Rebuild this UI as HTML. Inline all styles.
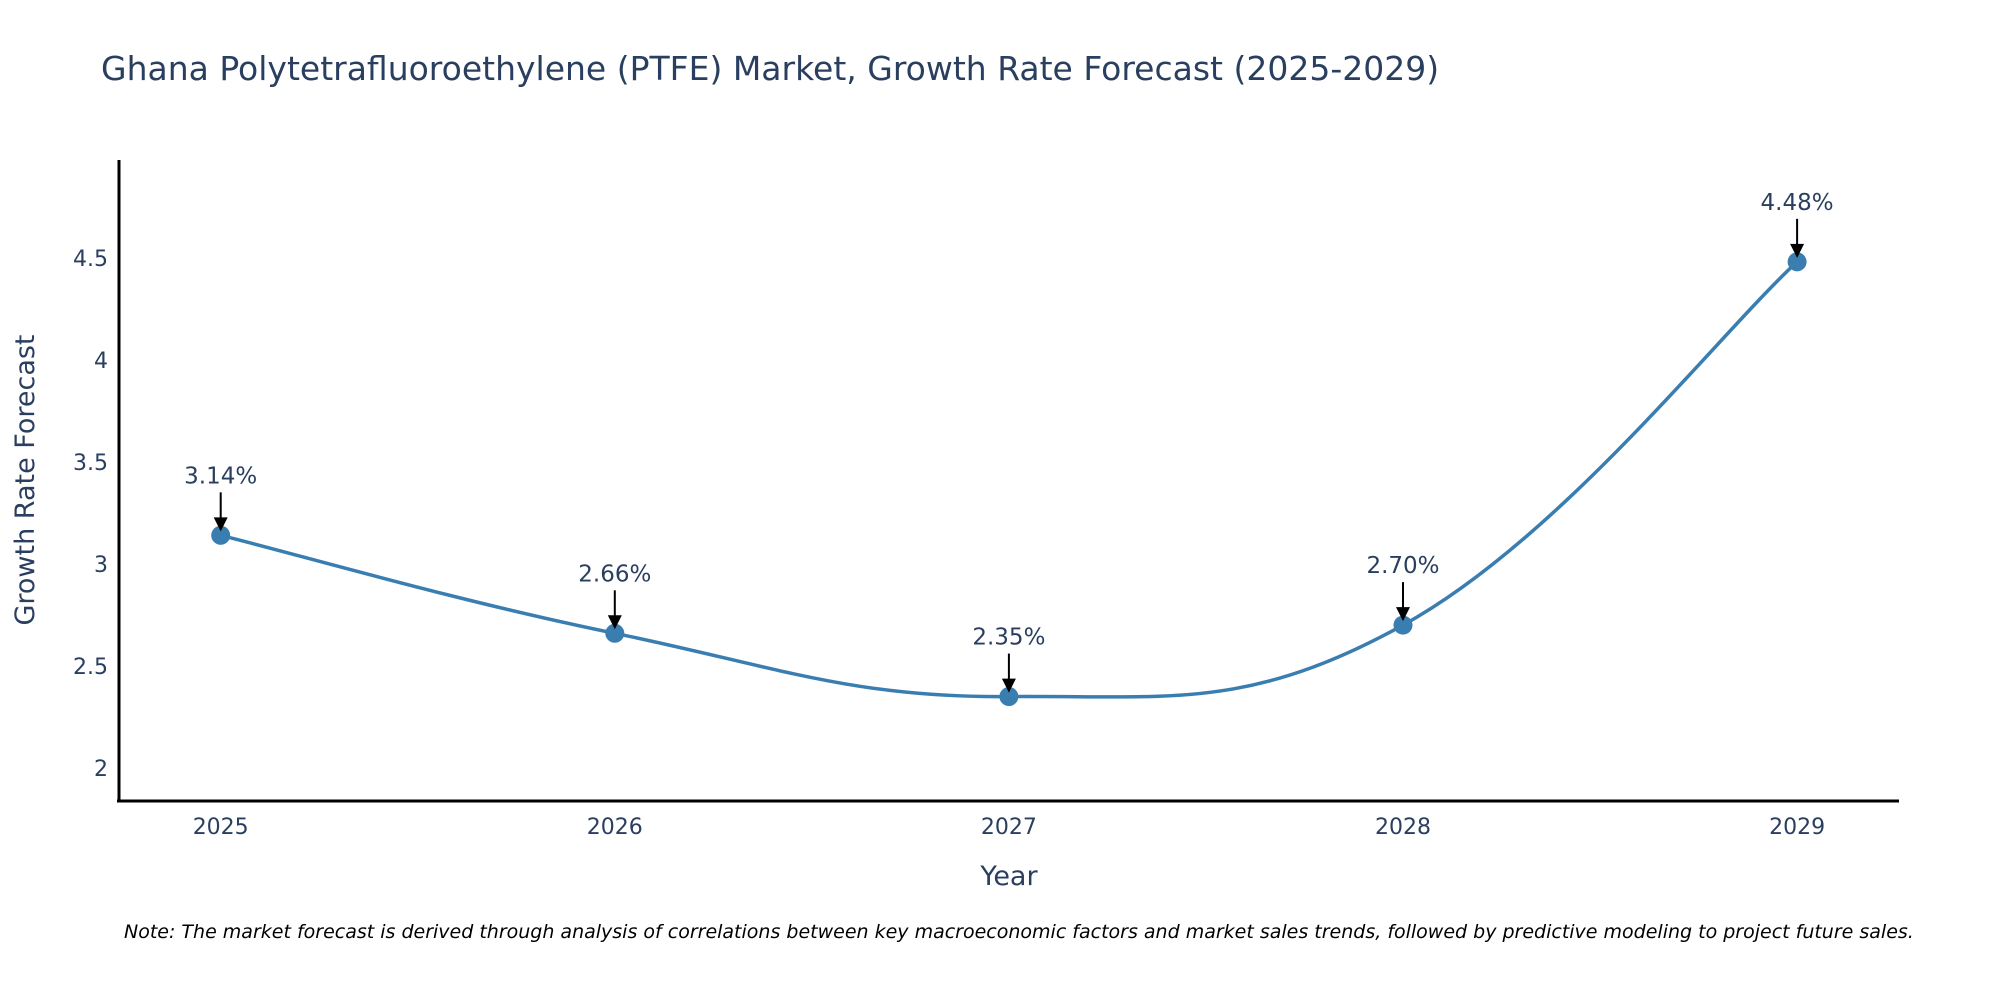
<!DOCTYPE html>
<html><head><meta charset="utf-8"><style>
body{margin:0;background:#fff;}
svg text{font-family:"DejaVu Sans","Liberation Sans",sans-serif;}
</style></head><body>
<svg width="2000" height="1000" xmlns="http://www.w3.org/2000/svg">
<text x="101" y="80" font-size="33" fill="#2a3f5f">Ghana Polytetrafluoroethylene (PTFE) Market, Growth Rate Forecast (2025-2029)</text>
<g id="yticks"></g>
<g id="xticks"></g>
<line x1="119" y1="160" x2="119" y2="802" stroke="#000" stroke-width="3"/>
<line x1="117" y1="801" x2="1899" y2="801" stroke="#000" stroke-width="3"/>
<text transform="translate(34,480) rotate(-90)" text-anchor="middle" font-size="27" fill="#2a3f5f">Growth Rate Forecast</text>
<text x="1009" y="885" text-anchor="middle" font-size="27" fill="#2a3f5f">Year</text>
<path id="line" fill="none" stroke="#3a7eb1" stroke-width="3.5"/>
<g id="marks"></g>
<text x="124" y="938" font-size="19" font-style="italic" fill="#000">Note: The market forecast is derived through analysis of correlations between key macroeconomic factors and market sales trends, followed by predictive modeling to project future sales.</text>
</svg>
<script>
const years = ['2025','2026','2027','2028','2029'];
const values = [3.14, 2.66, 2.35, 2.70, 4.48];
const yTicks = [2, 2.5, 3, 3.5, 4, 4.5];
const yTickLabels = ['2','2.5','3','3.5','4','4.5'];
const NS='http://www.w3.org/2000/svg';
function xs(i){return 220.7+i*394.1;}
function ys(v){return 768-(v-2)*204.1;}
function mk(t,a,p){const e=document.createElementNS(NS,t);for(const k in a)e.setAttribute(k,a[k]);p.appendChild(e);return e;}
const yt=document.getElementById('yticks'),xt=document.getElementById('xticks'),mg=document.getElementById('marks');
yTicks.forEach((v,i)=>{const t=mk('text',{x:108,y:ys(v)+8,'text-anchor':'end','font-size':'22',fill:'#2a3f5f'},yt);


t.textContent=yTickLabels[i];});
years.forEach((y,i)=>{const t=mk('text',{x:xs(i),y:834,'text-anchor':'middle','font-size':'22',fill:'#2a3f5f'},xt);


t.textContent=y;});
const P=values.map((v,i)=>[xs(i),ys(v)]);
let d='M'+P[0][0]+','+P[0][1];const s=0.2;
for(let i=0;i<P.length-1;i++){const p0=P[Math.max(i-1,0)],p1=P[i],p2=P[i+1],p3=P[Math.min(i+2,P.length-1)];
const c1=[p1[0]+(p2[0]-p0[0])*s,p1[1]+(p2[1]-p0[1])*s],c2=[p2[0]-(p3[0]-p1[0])*s,p2[1]-(p3[1]-p1[1])*s];
d+=' C'+c1+' '+c2+' '+p2;}
document.getElementById('line').setAttribute('d',d);
P.forEach((p,i)=>{const c=mk('circle',{cx:p[0],cy:p[1],r:9.5,fill:'#3a7eb1'},mg);


const l=mk('line',{x1:p[0],y1:p[1]-43,x2:p[0],y2:p[1]-14,stroke:'#000','stroke-width':2},mg);


const h=mk('polygon',{points:(p[0]-7)+','+(p[1]-18)+' '+(p[0]+7)+','+(p[1]-18)+' '+p[0]+','+(p[1]-4),fill:'#000'},mg);


const t=mk('text',{x:p[0],y:p[1]-52,'text-anchor':'middle','font-size':'23',fill:'#2a3f5f'},mg);


t.textContent=values[i].toFixed(2)+'%';});
</script>
</body></html>
